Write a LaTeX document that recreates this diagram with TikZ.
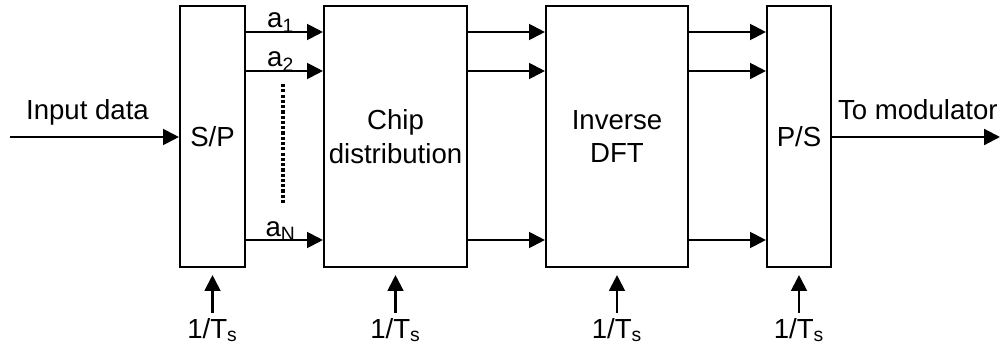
\documentclass[tikz,border=0pt]{standalone}
\usepackage{fontspec}
\setmainfont{Liberation Sans}
\usetikzlibrary{arrows.meta,positioning}

\tikzset{
  blk/.style={draw, line width=1.2pt, minimum height=5.22cm, align=center, inner sep=0pt},
  clk/.style={anchor=base, inner sep=2.5pt},
  sub/.style={anchor=base, inner sep=0pt}
}

\begin{document}
\begin{tikzpicture}[>={Triangle[length=9pt,width=9pt]}, line width=1.2pt, font=\fontsize{15.7}{19}\selectfont]
	\useasboundingbox (0,0) rectangle (20.14,6.98);
	% the four blocks
	\node[blk, minimum width=1.3cm] (sp) at (4.25,4.25) {S/P};
	\node[blk, minimum width=2.86cm] (chip) at (7.91,4.25) {Chip\\distribution};
	\node[blk, minimum width=2.84cm] (idft) at (12.34,4.25) {Inverse\\DFT};
	\node[blk, minimum width=1.28cm] (ps) at (15.98,4.25) {P/S};
	% input and output
	\coordinate (in) at (0.2,4.24);
	\coordinate (out) at (20.0,4.24);
	\draw[->] (in) -- (sp.west |- in) node[midway, anchor=base, xshift=-0.14cm, yshift=0.36cm] {Input data};
	\draw[->] (ps.east |- out) -- (out) node[pos=0, anchor=base west, inner sep=0pt, xshift=0.1cm, yshift=0.36cm] {To modulator};
	% parallel branches
	\foreach \y/\lab in {6.34/a\textsubscript{1}, 5.56/a\textsubscript{2}, 2.18/a\textsubscript{N}} {
		\draw[->] (sp.east |- 0,\y) -- (chip.west |- 0,\y) node[sub, pos=0.45, yshift=0.08cm] {\lab};
		\draw[->] (chip.east |- 0,\y) -- (idft.west |- 0,\y);
		\draw[->] (idft.east |- 0,\y) -- (ps.west |- 0,\y);
	}
	\coordinate (dtop) at (5.66,5.3);
	\coordinate (dbot) at (5.66,2.92);
	\draw[line width=1.8pt, dash pattern=on 1.8pt off 1.2pt] (dtop) -- (dbot);
	% symbol clock inputs
	\foreach \b in {sp, chip, idft, ps} {
		\node[clk] (t\b) at (\b.south |- 0,0.22) {1/T\textsubscript{s}};
		\draw[->] (t\b.north) -- ([yshift=-0.14cm]\b.south);
	}
\end{tikzpicture}
\end{document}
